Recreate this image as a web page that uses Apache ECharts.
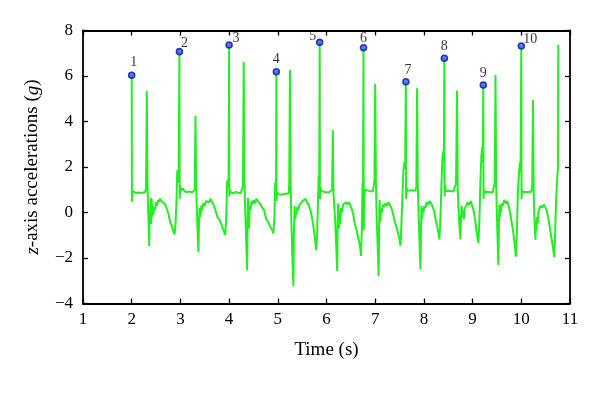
<!DOCTYPE html>
<html><head><meta charset="utf-8">
<script src="https://cdn.jsdelivr.net/npm/echarts@6/dist/echarts.min.js"></script>
<style>html,body{margin:0;padding:0;background:#fff}#c{width:600px;height:405px}</style>
</head><body><div id="c"></div>
<script>
// time (s), z-axis acceleration (g)
var beat1 = [[2.000,6.03],[2.005,0.47],[2.015,0.95],[2.03,0.87],[2.08,0.86],[2.13,0.88],[2.18,0.86],[2.23,0.87],[2.28,0.90],[2.295,1.1],[2.31,5.34],[2.325,1.2],[2.335,0.3],[2.35,-0.6],[2.36,-1.47],[2.37,0.1],[2.38,-0.4],[2.39,0.65],[2.40,-0.5],[2.41,0.6],[2.42,-0.2],[2.43,0.3],[2.44,-0.1],[2.46,0.25],[2.48,0.1],[2.50,0.45],[2.52,0.3],[2.54,0.55],[2.56,0.45],[2.58,0.6],[2.61,0.5],[2.64,0.55],[2.67,0.4],[2.70,0.3],[2.73,0.1],[2.76,-0.1],[2.79,-0.45],[2.82,-0.55],[2.85,-0.8],[2.88,-0.96],[2.90,-0.5],[2.92,0.5],[2.935,1.84],[2.95,1.3],[2.965,1.5]];
var beat2 = [[2.98,7.07],[2.985,0.6],[2.995,1.2],[3.01,0.95],[3.05,1.05],[3.09,0.92],[3.14,0.9],[3.19,0.93],[3.24,0.88],[3.28,0.9],[3.295,1.0],[3.31,4.25],[3.325,1.0],[3.345,-0.3],[3.36,-1.2],[3.37,-1.75],[3.38,-0.6],[3.395,0.2],[3.41,-0.2],[3.43,0.3],[3.45,0.1],[3.47,0.4],[3.50,0.3],[3.53,0.5],[3.56,0.55],[3.59,0.45],[3.62,0.6],[3.65,0.45],[3.68,0.35],[3.72,0.1],[3.76,-0.2],[3.80,-0.3],[3.84,-0.5],[3.88,-0.75],[3.92,-0.99],[3.94,-0.3],[3.96,1.4],[3.975,1.1],[3.99,1.6]];
var beat3 = [[4.00,7.36],[4.005,0.7],[4.015,1.0],[4.04,0.88],[4.09,0.85],[4.14,0.9],[4.19,0.87],[4.24,0.86],[4.27,0.9],[4.285,1.2],[4.30,6.62],[4.315,1.5],[4.33,0.2],[4.35,-1.2],[4.37,-2.53],[4.38,-0.5],[4.39,0.65],[4.40,-0.2],[4.41,-0.7],[4.42,0.3],[4.44,0.1],[4.46,0.5],[4.48,0.35],[4.50,0.55],[4.53,0.4],[4.56,0.6],[4.59,0.5],[4.62,0.55],[4.65,0.35],[4.68,0.2],[4.72,0.1],[4.76,-0.3],[4.80,-0.4],[4.84,-0.6],[4.88,-0.75],[4.91,-0.92],[4.93,-0.2],[4.945,1.3],[4.955,1.0],[4.965,1.5]];
var beat4 = [[4.97,6.19],[4.975,0.5],[4.985,0.9],[5.01,0.8],[5.06,0.78],[5.11,0.8],[5.16,0.82],[5.20,0.78],[5.225,0.85],[5.235,1.3],[5.25,6.26],[5.265,1.2],[5.28,-0.5],[5.30,-2.0],[5.32,-3.23],[5.33,-1.0],[5.345,0.3],[5.36,-0.3],[5.37,0.1],[5.385,-0.1],[5.40,0.25],[5.42,0.1],[5.45,0.35],[5.48,0.3],[5.51,0.5],[5.54,0.45],[5.57,0.6],[5.60,0.45],[5.63,0.35],[5.67,0.1],[5.70,-0.2],[5.73,-0.6],[5.76,-1.1],[5.79,-1.65],[5.81,-0.8],[5.83,0.9],[5.84,1.6],[5.85,1.2]];
var beat5 = [[5.86,7.48],[5.865,0.6],[5.875,1.1],[5.89,0.95],[5.93,1.0],[5.97,0.9],[6.01,0.92],[6.05,0.88],[6.09,0.85],[6.115,1.0],[6.13,3.63],[6.145,0.8],[6.16,0.3],[6.18,-0.4],[6.20,-1.5],[6.22,-2.57],[6.23,-0.5],[6.24,0.4],[6.25,-0.3],[6.26,-0.7],[6.27,0.0],[6.285,-0.5],[6.30,0.2],[6.32,0.0],[6.34,0.35],[6.37,0.3],[6.40,0.45],[6.43,0.35],[6.46,0.45],[6.49,0.3],[6.52,0.15],[6.55,-0.1],[6.58,-0.5],[6.62,-0.8],[6.66,-1.2],[6.69,-1.5],[6.71,-1.91],[6.725,-0.7],[6.74,1.3],[6.75,0.9]];
var beat6 = [[6.76,7.24],[6.765,-0.77],[6.775,0.6],[6.79,1.0],[6.83,1.05],[6.87,0.95],[6.91,1.0],[6.95,0.92],[6.975,1.0],[6.985,1.4],[7.00,5.66],[7.015,1.3],[7.03,-0.2],[7.05,-1.4],[7.07,-2.79],[7.08,-0.6],[7.09,0.55],[7.10,-0.1],[7.11,-0.4],[7.12,0.2],[7.14,0.0],[7.16,0.35],[7.18,0.25],[7.21,0.4],[7.24,0.3],[7.27,0.45],[7.30,0.35],[7.33,0.2],[7.36,0.0],[7.39,-0.3],[7.43,-0.6],[7.47,-0.9],[7.50,-1.2],[7.52,-1.46],[7.54,-0.4],[7.56,0.8],[7.58,1.9],[7.60,2.2],[7.615,1.9]];
var beat7 = [[7.63,5.75],[7.635,0.6],[7.645,1.1],[7.66,0.95],[7.70,1.0],[7.74,0.98],[7.78,1.0],[7.82,0.95],[7.845,1.1],[7.86,5.46],[7.875,1.2],[7.89,0.0],[7.91,-1.3],[7.93,-2.5],[7.94,-0.8],[7.95,0.3],[7.96,-0.3],[7.975,0.2],[7.99,0.0],[8.01,0.3],[8.03,0.2],[8.06,0.45],[8.09,0.35],[8.12,0.5],[8.15,0.4],[8.18,0.25],[8.21,0.05],[8.24,-0.3],[8.27,-0.6],[8.30,-0.9],[8.32,-1.18],[8.34,-0.2],[8.36,1.2],[8.38,2.4],[8.40,2.7],[8.41,2.2]];
var beat8 = [[8.42,6.78],[8.425,0.7],[8.435,1.2],[8.45,0.95],[8.49,1.0],[8.53,0.95],[8.57,1.0],[8.61,0.92],[8.645,0.95],[8.66,1.3],[8.68,5.35],[8.695,1.0],[8.71,0.2],[8.73,-0.6],[8.75,-1.18],[8.76,-0.3],[8.775,0.3],[8.79,-0.2],[8.80,0.1],[8.82,-0.3],[8.84,0.2],[8.87,0.3],[8.90,0.45],[8.93,0.35],[8.96,0.5],[8.99,0.3],[9.02,0.1],[9.05,-0.3],[9.08,-0.8],[9.10,-1.1],[9.12,-1.35],[9.14,-0.3],[9.16,1.3],[9.18,2.5],[9.20,2.9],[9.21,2.2]];
var beat9 = [[9.22,5.60],[9.225,0.6],[9.235,1.0],[9.25,0.9],[9.29,0.95],[9.33,0.9],[9.37,0.92],[9.41,0.88],[9.445,0.95],[9.455,1.3],[9.47,6.04],[9.485,1.1],[9.50,-0.2],[9.515,-1.3],[9.53,-2.31],[9.54,-0.5],[9.55,0.35],[9.56,-0.2],[9.57,0.3],[9.585,0.0],[9.60,0.4],[9.62,0.3],[9.65,0.55],[9.68,0.4],[9.71,0.5],[9.74,0.3],[9.77,0.0],[9.80,-0.4],[9.83,-0.8],[9.86,-1.3],[9.89,-1.94],[9.91,-0.8],[9.93,0.9],[9.95,1.6],[9.97,2.2],[9.985,1.8]];
var beat10 = [[10.00,7.32],[10.005,0.6],[10.015,1.0],[10.03,0.9],[10.07,0.95],[10.11,0.9],[10.15,0.92],[10.19,0.9],[10.215,1.0],[10.225,1.3],[10.24,4.95],[10.255,0.8],[10.27,-0.3],[10.29,-1.2],[10.30,-0.4],[10.31,-0.8],[10.32,-0.2],[10.335,-0.5],[10.35,0.0],[10.37,0.15],[10.40,0.3],[10.43,0.2],[10.46,0.35],[10.49,0.25],[10.52,0.1],[10.55,-0.2],[10.58,-0.6],[10.61,-1.0],[10.64,-1.4],[10.68,-1.97],[10.70,-0.5],[10.72,0.8],[10.74,1.6],[10.755,2.0],[10.76,7.36]];

var peakTimes  = [2.00, 2.98, 4.00, 4.97, 5.86, 6.76, 7.63, 8.42, 9.22, 10.00];
var peakValues = [6.03, 7.07, 7.36, 6.19, 7.48, 7.24, 5.75, 6.78, 5.60, 7.32];
var peakLabels = ['1','2','3','4','5','6','7','8','9','10'];
var xTicks = [1,2,3,4,5,6,7,8,9,10,11];
var yTicks = [-4,-2,0,2,4,6,8];

var labelOffsets = [[2,0],[5,4],[7,6],[0,0],[-7,7],[0,3],[2,1],[0,1],[0,1],[9,6]];

var lineData = [].concat(beat1,beat2,beat3,beat4,beat5,beat6,beat7,beat8,beat9,beat10);
var markerData = peakTimes.map(function(t,i){
  return {value:[t,peakValues[i]], label:{formatter:peakLabels[i], offset:labelOffsets[i]}};
});

var FONT = "'Liberation Serif','DejaVu Serif',serif";
var minus = function(v){ return String(v).replace('-', '\u2212'); };

var chart = echarts.init(document.getElementById('c'), null, {renderer:'canvas'});
chart.setOption({
  animation:false,
  backgroundColor:'#fff',
  grid:{left:83, right:30, top:30.5, bottom:101.5, containLabel:false},
  xAxis:[{
    type:'value', min:xTicks[0], max:xTicks[xTicks.length-1], interval:1,
    name:'Time (s)', nameLocation:'middle', nameGap:37,
    nameTextStyle:{fontFamily:FONT, fontSize:19, color:'#000'},
    axisLine:{onZero:false, lineStyle:{color:'#000', width:1.8}},
    axisTick:{inside:true, length:5, lineStyle:{color:'#000', width:1.3}},
    axisLabel:{fontFamily:FONT, fontSize:17, color:'#000', margin:8},
    splitLine:{show:false}
  },{
    type:'value', position:'top', min:xTicks[0], max:xTicks[xTicks.length-1], interval:1,
    axisLine:{show:true, onZero:false, lineStyle:{color:'#000', width:1.8}},
    axisTick:{inside:true, length:5, lineStyle:{color:'#000', width:1.3}},
    axisLabel:{show:false}, splitLine:{show:false}
  }],
  yAxis:[{
    type:'value', min:yTicks[0], max:yTicks[yTicks.length-1], interval:2,
    name:'{i|z}-axis accelerations ({i|g})', nameLocation:'middle', nameGap:41,
    nameTextStyle:{fontFamily:FONT, fontSize:19, color:'#000',
      rich:{i:{fontFamily:FONT, fontSize:19, fontStyle:'italic', color:'#000'}}},
    axisLine:{show:true, onZero:false, lineStyle:{color:'#000', width:1.8}},
    axisTick:{inside:true, length:5, lineStyle:{color:'#000', width:1.3}},
    axisLabel:{fontFamily:FONT, fontSize:17, color:'#000', margin:10, formatter:minus},
    splitLine:{show:false}
  },{
    type:'value', position:'right', min:yTicks[0], max:yTicks[yTicks.length-1], interval:2,
    axisLine:{show:true, onZero:false, lineStyle:{color:'#000', width:1.8}},
    axisTick:{inside:true, length:5, lineStyle:{color:'#000', width:1.3}},
    axisLabel:{show:false}, splitLine:{show:false}
  }],
  series:[{
    type:'line', data:lineData, showSymbol:false, symbol:'none',
    lineStyle:{color:'#22ee22', width:2}, z:2
  },{
    type:'scatter', data:markerData, symbol:'circle', symbolSize:6,
    itemStyle:{color:'#3a5cf0', borderColor:'#0814a8', borderWidth:1.6},
    label:{show:true, position:'top', distance:2, fontFamily:FONT, fontSize:14, color:'#000'},
    z:3
  }]
});
</script>
</body></html>
